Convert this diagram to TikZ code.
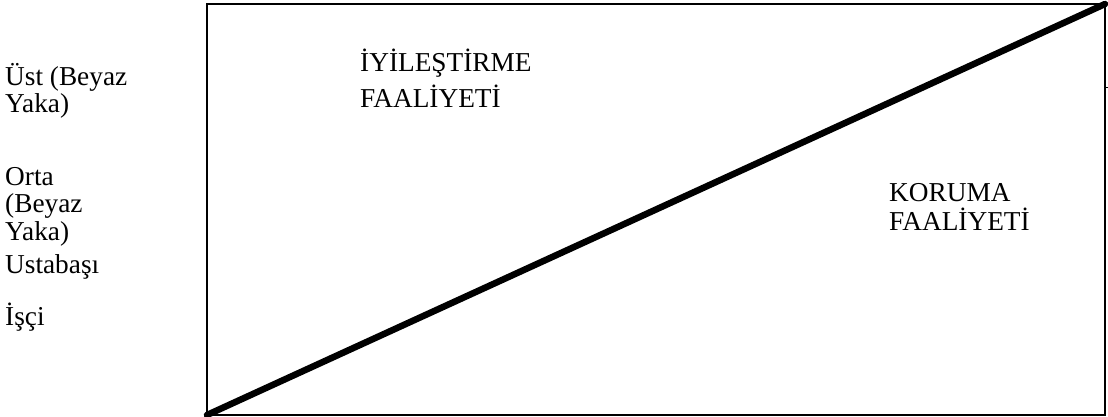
\documentclass[tikz,border=0pt]{standalone}
\usepackage{fontspec}
\setmainfont{Liberation Serif}
\begin{document}
\begin{tikzpicture}[x=1pt,y=-1pt,
  lbl/.style={anchor=base west,inner sep=0pt,align=left,font=\fontsize{27.3}{27.5}\selectfont},
  mid/.style={lbl,font=\fontsize{27.3}{36}\selectfont},
  low/.style={lbl,font=\fontsize{27.3}{29}\selectfont},
  frame/.style={line width=2.2pt},
  diag/.style={line width=6.5pt,line cap=round}]
\useasboundingbox (0,0) rectangle (1108,417);
\coordinate (tl) at (207,4);
\coordinate (br) at (1105,415);
\coordinate (bl) at (207,415);
\coordinate (tr) at (1105,4);
\coordinate (tickA) at (1105,88);
\coordinate (tickB) at (1108,88);
\draw[frame] (tl) rectangle (br);
\draw[diag] (bl) -- (tr);
\draw[line width=1pt] (tickA) -- (tickB);
% base anchor of a multi-line node = baseline of its last line
\node[lbl] (ust) at (5,113) {Üst (Beyaz\\Yaka)};
\node[lbl] (orta) at (5,240) {Orta\\(Beyaz\\Yaka)};
\node[lbl] (usta) at (5,273) {Ustabaşı};
\node[lbl] (isci) at (5,325) {İşçi};
\node[mid] (iyi) at (360,108) {İYİLEŞTİRME\\FAALİYETİ};
\node[low] (kor) at (889,230.5) {KORUMA\\FAALİYETİ};
\end{tikzpicture}
\end{document}
